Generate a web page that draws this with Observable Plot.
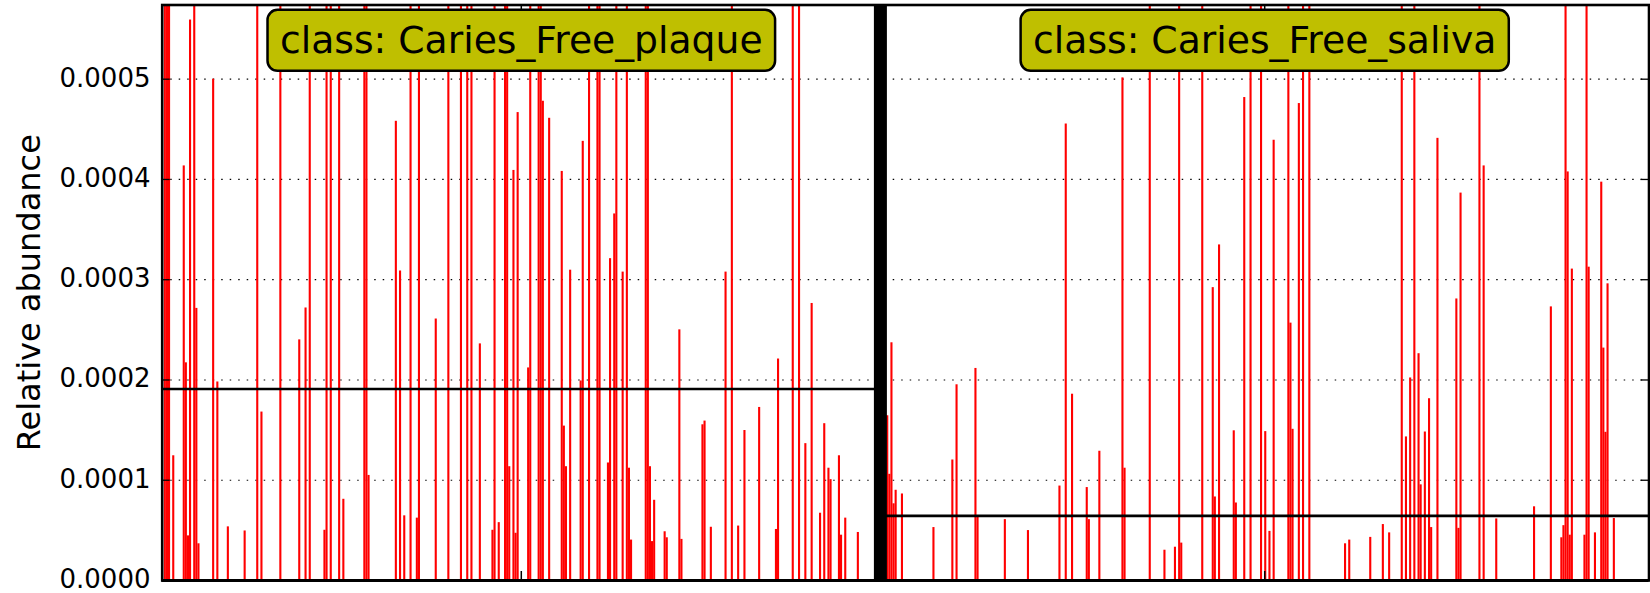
<!DOCTYPE html>
<html>
<head>
<meta charset="utf-8">
<script src="https://cdn.jsdelivr.net/npm/d3@7"></script>
<script src="https://cdn.jsdelivr.net/npm/@observablehq/plot@0.6"></script>
<style>
html, body { margin: 0; padding: 0; background: #fff; }
#chart svg { display: block; }
</style>
</head>
<body>
<div id="chart"></div>
<script>
// ---- data ----
const classNames = ["Caries_Free_plaque", "Caries_Free_saliva"];
const classStart = [0, 342];      // sample index where each class begins
const classEnd = [342, 708];      // sample index where each class ends
const classMean = [0.000191, 0.0000645];
const yTicks = [0, 0.0001, 0.0002, 0.0003, 0.0004, 0.0005];
const yMax = 0.000574;
const nSamples = 708;

// plaque samples (index, relative abundance); 0.0008 = bar runs off the top
const plaqueSample = [1,2,3,5,10,11,12,13,15,16,17,24,26,31,39,45,47,56,65,68,70,77,78,80,84,86,96,97,98,
  111,113,115,118,121,122,130,136,142,145,147,151,157,158,160,163,164,165,167,168,169,174,175,179,180,181,
  184,190,191,192,194,199,200,203,207,208,212,213,215,216,219,221,222,223,230,231,232,233,234,239,240,246,
  247,257,258,261,268,271,274,277,284,292,293,300,303,306,309,313,315,317,318,322,323,325,331];
const plaqueValue = [0.0008,0.0008,0.0008,0.0001244,0.0004135,0.0002171,0.0000445,0.000559,0.0008,0.0002714,
  0.0000366,0.0005,0.000198,0.0000535,0.0000494,0.0008,0.000168,0.0008,0.00024,0.0002718,0.0008,0.0000501,
  0.0008,0.0008,0.0008,0.000081,0.0008,0.0008,0.0001048,
  0.000458,0.0003087,0.0000645,0.0008,0.0000622,0.0008,0.0002608,0.0008,0.0008,0.0008,0.0008,0.000236,
  0.0000501,0.0008,0.0000577,0.0008,0.0008,0.0001135,0.000409,0.0000471,0.0004667,0.000212,0.0008,0.0008,
  0.0008,0.000478,
  0.000461,0.000408,0.000154,0.0001135,0.0003095,0.000199,0.000438,0.0008,0.0008,0.0008,0.0001172,0.000321,
  0.0003656,0.0008,0.0003076,0.0008,0.000112,0.0000403,0.0008,0.0008,0.0001135,0.0000388,0.00008,0.0000486,
  0.0000426,0.00025,
  0.000041,0.0001553,0.000159,0.0000531,0.0003076,0.0008,0.0000543,0.0001496,0.0001726,0.0000509,0.0002209,
  0.0008,0.0008,0.0001365,0.0002763,0.0000671,0.0001564,0.000112,0.0001006,0.0001244,0.0000452,0.0000622,
  0.0000479];

// saliva samples (index, relative abundance)
const salivaSample = [345,346,347,348,349,352,367,376,378,387,388,401,412,427,430,433,440,441,446,457,458,
  470,477,482,484,485,495,500,501,503,510,511,515,518,523,525,527,529,536,537,538,541,543,546,563,565,575,
  581,584,590,592,594,596,598,599,601,603,604,607,616,617,618,627,629,635,653,661,666,667,668,669,670,671,
  677,678,679,682,685,686,687,688,691];
const salivaValue = [0.0001643,0.0001059,0.0002371,0.0000765,0.00009,0.0000863,0.0000528,0.0001202,0.0001952,
  0.0002115,0.0000633,0.0000607,0.0000498,0.0000942,0.0004553,0.0001858,0.0000927,0.0000607,0.0001289,
  0.0005013,0.000112,
  0.0008,0.0000302,0.0000332,0.0008,0.0000373,0.0008,0.0002921,0.0000833,0.0003347,0.0001493,0.0000773,
  0.0004817,0.0008,0.0008,0.0001485,0.000049,0.0004391,0.0008,0.0002567,0.0001508,0.0004757,0.0008,0.0008,
  0.0000366,0.0000403,0.000043,
  0.0000558,0.0000475,0.0008,0.0001432,0.000202,0.0008,0.0002262,0.0000954,0.0001481,0.0001813,0.0000528,
  0.000441,0.0002808,0.000052,0.0003864,0.0008,0.0004135,0.0000614,0.0000735,0.0002729,0.0000426,0.0000547,
  0.0008,0.0004075,0.0000452,0.0003106,
  0.0000452,0.0008,0.0003125,0.0000475,0.0003973,0.0002318,0.0001478,0.0002959,0.0000618];

// ---- tables built from the arrays ----
const bars = [
  ...plaqueSample.map((s, k) => ({i: s, v: plaqueValue[k]})),
  ...salivaSample.map((s, k) => ({i: s, v: salivaValue[k]}))
];
const classes = classNames.map((name, k) => ({
  name, start: classStart[k], end: classEnd[k], mean: classMean[k],
  center: (classStart[k] + classEnd[k]) / 2
}));

// ---- layout ----
const W = 1650, H = 593;
const mL = 161.7, mR = 1.5, mT = 4.5, mB = 13;
const fw = W - mL - mR, fh = H - mT - mB;
const font = "DejaVu Sans";

const chart = Plot.plot({
  width: W, height: H,
  marginLeft: mL, marginRight: mR, marginTop: mT, marginBottom: mB,
  style: {fontFamily: font, fontSize: "26px", background: "white", color: "black"},
  x: {domain: [0, nSamples], axis: null},
  y: {domain: [0, yMax], axis: null},
  marks: [
    Plot.ruleY(yTicks.slice(1), {stroke: "black", strokeWidth: 1.2, strokeDasharray: "1.5,7"}),
    Plot.rectY(bars, {x1: "i", x2: d => d.i + 1, y: "v", fill: "#ff0000", clip: true}),
    Plot.ruleY(classes, {y: "mean", x1: "start", x2: "end", stroke: "black", strokeWidth: 2.6}),
    Plot.ruleX([classStart[1]], {stroke: "black", strokeWidth: 13}),
    // inward tick marks
    Plot.tickY(yTicks, {y: d => d, insetRight: fw - 8, stroke: "black", strokeWidth: 1.3}),
    Plot.tickY(yTicks, {y: d => d, insetLeft: fw - 8, stroke: "black", strokeWidth: 1.3}),
    Plot.tickX(classes, {x: "center", insetTop: fh - 9, stroke: "black", strokeWidth: 1.5}),
    Plot.tickX(classes, {x: "center", insetBottom: fh - 9, stroke: "black", strokeWidth: 1.5}),
    Plot.frame({stroke: "black", strokeWidth: 2.6}),
    Plot.ruleY([0], {stroke: "black", strokeWidth: 3}),
    Plot.axisY(yTicks, {tickFormat: d3.format(".4f"), tickSize: 0, tickPadding: 11.7, fontSize: 26,
      label: null, fill: "black", dy: -1}),
    Plot.text(["Relative abundance"], {frameAnchor: "left", textAnchor: "middle", lineAnchor: "middle",
      rotate: -90, dx: -132.3, fontSize: 32, fill: "black"}),
    Plot.text(classes, {x: "center", text: d => "class: " + d.name, frameAnchor: "top", lineAnchor: "middle",
      textAnchor: "middle", dy: 36.3, fontSize: 37.7, fill: "black"})
  ]
});

document.getElementById("chart").appendChild(chart);

// rounded label boxes behind the class texts
d3.select(chart).selectAll("text").filter(function() {
  return this.textContent.startsWith("class: ");
}).each(function() {
  const bb = this.getBBox();
  const padX = 12.5, padY = 8.5;
  const rect = document.createElementNS("http://www.w3.org/2000/svg", "rect");
  rect.setAttribute("x", bb.x - padX);
  rect.setAttribute("y", bb.y - padY);
  rect.setAttribute("width", bb.width + 2 * padX);
  rect.setAttribute("height", bb.height + 2 * padY);
  rect.setAttribute("rx", 10);
  rect.setAttribute("fill", "#bfbf00");
  rect.setAttribute("stroke", "black");
  rect.setAttribute("stroke-width", 2.5);
  const t = this.getAttribute("transform");
  if (t) rect.setAttribute("transform", t);
  this.parentNode.insertBefore(rect, this);
});
</script>
</body>
</html>
